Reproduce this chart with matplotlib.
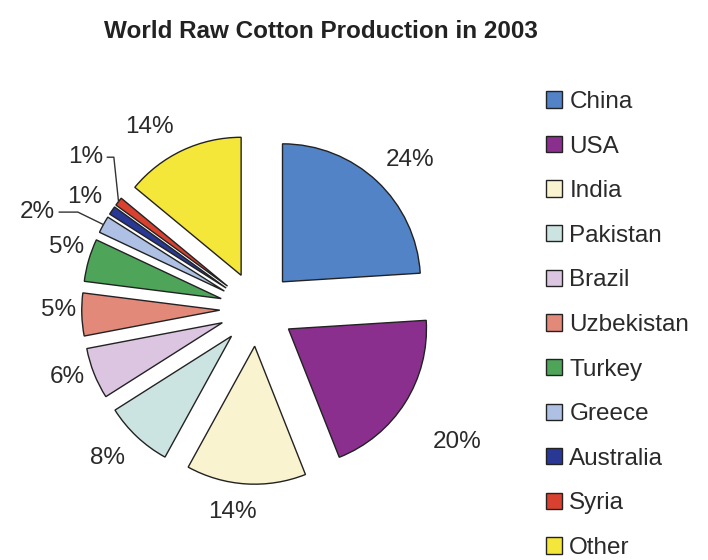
import matplotlib
matplotlib.use("Agg")
import matplotlib.pyplot as plt
import numpy as np

plt.rcParams['font.family'] = ['Liberation Sans', 'DejaVu Sans']

# cotton production share by country, 2003
countries = ['China', 'USA', 'India', 'Pakistan', 'Brazil', 'Uzbekistan',
             'Turkey', 'Greece', 'Australia', 'Syria', 'Other']
shares = [24, 20, 14, 8, 6, 5, 5, 2, 1, 1, 14]
colors = ['#5183c6', '#8b2f8e', '#faf3cf', '#cce4e1', '#dcc5e1', '#e2897a',
          '#4ea55a', '#aec0e4', '#283894', '#d8402f', '#f5e63a']

# where each percent label sits: radius (pie radii) and angle (deg)
lab_r = [1.55, 1.74, 1.48, 1.53, 1.46, 1.44, 1.45, 1.74, 1.49, 1.66, 1.53]
lab_ang = [44.2, -33.6, -97, -135.2, -160.3, -179.7, 162, 156.2, 146.9, 138.5, 120.5]

explode_amt = 0.27
fs = 17.5

fig = plt.figure(figsize=(7.08, 5.6), dpi=100)
# pie centre at (257, 309) px, radius 138 px
cx, cy, rad = 257, 309, 138
half = 250
ax = fig.add_axes([(cx - half) / 708, (560 - cy - half) / 560, 2 * half / 708, 2 * half / 560])

wedges, _ = ax.pie(shares, colors=colors, startangle=90, counterclock=False,
                   explode=[explode_amt] * len(shares),
                   wedgeprops=dict(edgecolor='#222222', linewidth=1.0))

# pie() resets the limits, so set them afterwards
lim = half / rad
ax.set_xlim(-lim, lim)
ax.set_ylim(-lim, lim)
ax.set_aspect('equal')
ax.axis('off')

for i, w in enumerate(wedges):
    mid = np.deg2rad((w.theta1 + w.theta2) / 2)
    a = np.deg2rad(lab_ang[i])
    tx, ty = lab_r[i] * np.cos(a), lab_r[i] * np.sin(a)
    label = f'{shares[i]}%'
    if countries[i] in ('Greece', 'Syria'):
        rr = 1 + explode_amt
        ex, ey = rr * np.cos(mid), rr * np.sin(mid)
        angB = -26 if countries[i] == 'Greece' else -84
        ax.annotate(label, xy=(ex, ey), xytext=(tx, ty), fontsize=fs,
                    color='#2a2a2a', ha='center', va='center',
                    arrowprops=dict(arrowstyle='-', color='#333333', lw=1.0,
                                    shrinkA=1, shrinkB=0,
                                    connectionstyle=f'angle,angleA=0,angleB={angB},rad=0'))
    else:
        ax.text(tx, ty, label, fontsize=fs, color='#2a2a2a', ha='center', va='center')

fig.text(321 / 708, 1 - 31 / 560, 'World Raw Cotton Production in 2003', ha='center',
         va='center', fontsize=fs, fontweight='bold', color='#222222')

fig.legend(wedges, countries, loc='upper left', bbox_to_anchor=(546 / 708, 1 - 91 / 560),
           frameon=False, fontsize=fs, handlelength=0.66, handleheight=0.66,
           handletextpad=0.3, labelspacing=0.93, borderpad=0, borderaxespad=0,
           labelcolor='#2a2a2a')

fig.savefig('out.png', dpi=100)
